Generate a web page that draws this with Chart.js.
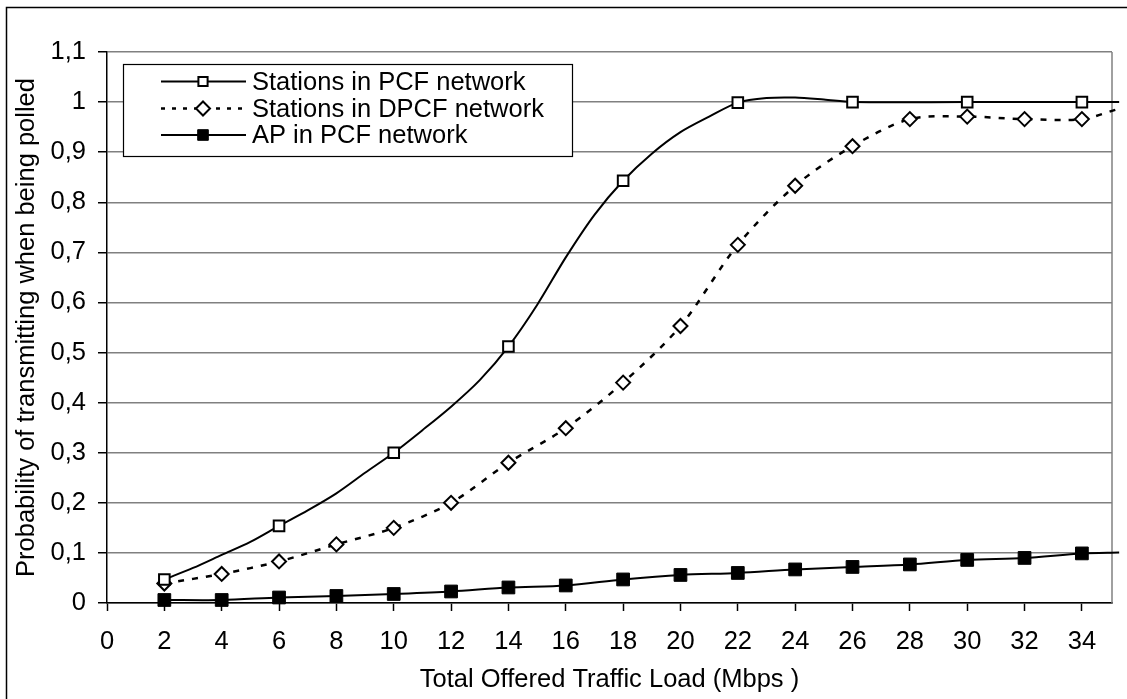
<!DOCTYPE html>
<html><head><meta charset="utf-8">
<script src="https://cdn.jsdelivr.net/npm/chart.js@4.4.1/dist/chart.umd.min.js"></script>
<style>html,body{margin:0;padding:0;background:#fff;overflow:hidden}</style>
</head><body>
<canvas id="c" width="1127" height="699"></canvas>
<script>
// ---- data ----
const seriesNames = ['Stations in PCF network', 'Stations in DPCF network', 'AP in PCF network'];

const pcfX = [2, 3, 4, 5, 6, 7, 8, 9, 10, 11, 12, 13, 14, 15, 16, 17, 18, 19, 20, 21, 22, 23, 24, 25, 26, 30, 34, 35.3];
const pcfY = [0.047, 0.07, 0.096, 0.122, 0.154, 0.185, 0.219, 0.26, 0.30, 0.345, 0.392, 0.445, 0.512, 0.595, 0.69, 0.775, 0.843, 0.897, 0.94, 0.971, 0.999, 1.008, 1.009, 1.005, 1.0, 1.0, 1.0, 1.0];
const pcfMarkerX = [2, 6, 10, 14, 18, 22, 26, 30, 34];

const dpcfX = [2, 4, 6, 8, 10, 12, 14, 16, 18, 20, 22, 24, 26, 28, 30, 32, 34, 35.2];
const dpcfY = [0.039, 0.058, 0.083, 0.117, 0.150, 0.200, 0.280, 0.349, 0.440, 0.553, 0.715, 0.833, 0.912, 0.966, 0.971, 0.966, 0.966, 0.985];
const dpcfMarkerX = [2, 4, 6, 8, 10, 12, 14, 16, 18, 20, 22, 24, 26, 28, 30, 32, 34];

const apX = [2, 4, 6, 8, 10, 12, 14, 16, 18, 20, 22, 24, 26, 28, 30, 32, 34, 35.3];
const apY = [0.006, 0.006, 0.011, 0.014, 0.018, 0.023, 0.031, 0.035, 0.047, 0.056, 0.060, 0.067, 0.072, 0.077, 0.086, 0.090, 0.099, 0.101];
const apMarkerX = [2, 4, 6, 8, 10, 12, 14, 16, 18, 20, 22, 24, 26, 28, 30, 32, 34];

const xTickValues = [0, 2, 4, 6, 8, 10, 12, 14, 16, 18, 20, 22, 24, 26, 28, 30, 32, 34];
const yTickValues = [0, 0.1, 0.2, 0.3, 0.4, 0.5, 0.6, 0.7, 0.8, 0.9, 1, 1.1];
const yTickLabels = ['0', '0,1', '0,2', '0,3', '0,4', '0,5', '0,6', '0,7', '0,8', '0,9', '1', '1,1'];
const xAxisTitle = 'Total Offered Traffic Load (Mbps )';
const yAxisTitle = 'Probability of transmitting when being polled';

// ---- chart ----
const FONT = '"Liberation Sans", Arial, sans-serif';
const FS = 25.5;
const toPts = (xs, ys) => xs.map((x, i) => ({ x: x, y: ys[i] }));
const markerRadius = (list, r) => (ctx) => (ctx.raw && list.includes(ctx.raw.x)) ? r : 0;

const styles = [
  { dash: [], width: 2, pointStyle: 'rect', radius: 7.5, fill: '#ffffff', pbw: 2 },
  { dash: [6, 8], width: 2.5, pointStyle: 'rectRot', radius: 7, fill: '#ffffff', pbw: 2 },
  { dash: [], width: 2, pointStyle: 'rect', radius: 9, fill: '#000000', pbw: 1 }
];

function ds(i, xs, ys, markers) {
  const s = styles[i];
  return {
    label: seriesNames[i],
    data: toPts(xs, ys),
    borderColor: '#000000',
    borderWidth: s.width,
    borderDash: s.dash,
    tension: 0.3,
    clip: false,
    pointStyle: s.pointStyle,
    pointRadius: markerRadius(markers, s.radius),
    pointHoverRadius: markerRadius(markers, s.radius),
    pointBackgroundColor: s.fill,
    pointBorderColor: '#000000',
    pointBorderWidth: s.pbw
  };
}

const framePlugin = {
  id: 'frame',
  beforeDraw(chart) {
    const c = chart.ctx;
    c.save();
    c.fillStyle = '#ffffff';
    c.fillRect(0, 0, chart.width, chart.height);
    c.strokeStyle = '#000000';
    c.lineWidth = 1.5;
    c.beginPath();
    c.moveTo(6.5, chart.height);
    c.lineTo(6.5, 7.5);
    c.lineTo(chart.width, 7.5);
    c.stroke();
    c.restore();
  },
  beforeDatasetsDraw(chart) {
    const a = chart.chartArea, c = chart.ctx;
    c.save();
    c.strokeStyle = '#808080';
    c.lineWidth = 1.5;
    c.beginPath();
    c.moveTo(a.right, a.top);
    c.lineTo(a.right, a.bottom);
    c.stroke();
    c.restore();
  },
  afterDraw(chart) {
    const c = chart.ctx;
    c.save();
    const bx = 123.5, by = 64.5, bw = 449, bh = 92;
    c.fillStyle = '#ffffff';
    c.fillRect(bx, by, bw, bh);
    c.strokeStyle = '#000000';
    c.lineWidth = 1.2;
    c.strokeRect(bx, by, bw, bh);
    const rows = [81.5, 108.5, 135];
    const legendDash = [[], [4, 7], []];
    chart.data.datasets.forEach((d, i) => {
      const s = styles[i];
      const y = rows[i];
      c.save();
      c.strokeStyle = '#000000';
      c.lineWidth = i === 1 ? 2.5 : 2;
      c.setLineDash(legendDash[i]);
      c.beginPath();
      c.moveTo(161, y);
      c.lineTo(246, y);
      c.stroke();
      c.setLineDash([]);
      c.fillStyle = s.fill;
      c.strokeStyle = '#000000';
      c.lineWidth = s.pbw;
      Chart.helpers.drawPoint(c, { pointStyle: s.pointStyle, radius: i === 2 ? 7.5 : (i === 0 ? 6.5 : 7), rotation: 0, borderWidth: s.pbw }, 203, y);
      c.restore();
      c.fillStyle = '#000000';
      c.font = FS + 'px ' + FONT;
      c.textAlign = 'left';
      c.textBaseline = 'middle';
      c.fillText(d.label, 252, y + 1);
    });
    c.restore();
  }
};

new Chart(document.getElementById('c'), {
  type: 'line',
  data: {
    datasets: [ds(0, pcfX, pcfY, pcfMarkerX), ds(1, dpcfX, dpcfY, dpcfMarkerX), ds(2, apX, apY, apMarkerX)]
  },
  options: {
    responsive: false,
    animation: false,
    devicePixelRatio: 1,
    layout: { padding: { top: 52, right: 15, left: 0, bottom: 0 } },
    plugins: { legend: { display: false }, tooltip: { enabled: false } },
    scales: {
      x: {
        type: 'linear',
        min: 0,
        max: 35.05,
        afterBuildTicks: (s) => { s.ticks = xTickValues.map(v => ({ value: v })); },
        afterFit: (s) => { s.height = 96; },
        grid: { drawOnChartArea: false, drawTicks: true, tickLength: 8, tickColor: '#000000', tickWidth: 1.5 },
        border: { display: true, color: '#000000', width: 1.5 },
        ticks: { color: '#000000', font: { family: FONT, size: FS }, padding: 16, maxRotation: 0, autoSkip: false,
                 callback: (v) => String(v) },
        title: { display: true, text: xAxisTitle, color: '#000000', font: { family: FONT, size: FS }, padding: { top: 0, bottom: 4 } }
      },
      y: {
        type: 'linear',
        min: 0,
        max: 1.1,
        afterBuildTicks: (s) => { s.ticks = yTickValues.map(v => ({ value: v })); },
        afterFit: (s) => { s.width = 107; },
        grid: { color: '#808080', lineWidth: 1.5, drawTicks: true, tickLength: 9, tickColor: '#000000', tickWidth: 1.5 },
        border: { display: true, color: '#000000', width: 1.5 },
        ticks: { color: '#000000', font: { family: FONT, size: FS }, padding: 12, autoSkip: false,
                 callback: (v, i) => yTickLabels[i] },
        title: { display: true, text: yAxisTitle, color: '#000000', font: { family: FONT, size: FS }, padding: { top: 12, bottom: 0 } }
      }
    }
  },
  plugins: [framePlugin]
});
</script>
</body></html>
